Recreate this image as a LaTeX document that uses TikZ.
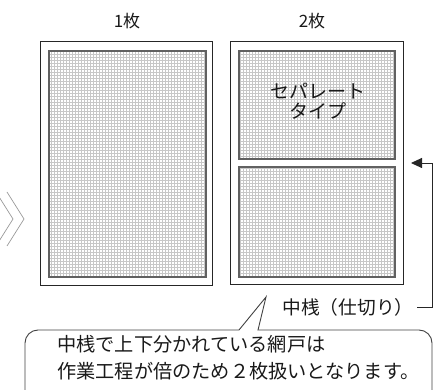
\documentclass[tikz,border=0pt]{standalone}
\usepackage{fontspec}
\newfontfamily\jp{Noto Sans CJK JP}
\usepackage{tikz}
\usetikzlibrary{arrows.meta, patterns, calc}

\tikzset{
  frame/.style={draw=black!85, line width=0.9pt, fill=white},
  mesh/.style={draw=black!62, line width=1.5pt, pattern=grid, pattern color=black!22},
  caption/.style={font=\jp\fontsize{17}{19}\selectfont, text=black!90},
  notetext/.style={font=\jp\fontsize{19.2}{21}\selectfont, text=black!90, inner sep=0pt, anchor=west},
  chevron/.style={draw=black!40, line width=0.7pt},
}

\begin{document}
\begin{tikzpicture}[x=1pt, y=-1pt]

	\useasboundingbox (0,0) rectangle (442,390);

	\coordinate (A1) at (40,41);
	\coordinate (A2) at (212,285);
	\coordinate (B1) at (230,41);
	\coordinate (B2) at (403,284);

	% frames
	\filldraw[frame] (A1) rectangle (A2);
	\filldraw[frame] (B1) rectangle (B2);

	% mesh panels
	\draw[mesh] ($(A1)+(9,10)$) rectangle ($(A2)+(-6,-8)$);
	\draw[mesh] ($(B1)+(9,10)$) rectangle (395,159);
	\draw[mesh] (239,167) rectangle ($(B2)+(-8,-7)$);

	\node[caption] (cap1) at (127,21) {1枚};
	\node[caption] (cap2) at (312,21) {2枚};

	\node[font=\jp\fontsize{19}{19.5}\selectfont, text=black!90, align=center] (seplbl) at (318,101)
		{セパレート\\タイプ};

	% chevrons
	\draw[chevron] (7,192) -- (24,219) -- (7,246);
	\draw[chevron] (-4,192) -- (13,219) -- (-4,246);

	% partition label and arrow
	\node[caption, font=\jp\fontsize{18.7}{20}\selectfont, anchor=east] (midlbl) at (417,307) {中桟（仕切り）};
	\coordinate (bend) at (432,307);
	\coordinate (tip) at (411,163);
	\draw[black!85, line width=0.9pt, -{Triangle[length=11pt, width=10pt]}] (midlbl.east) -- (bend) |- (tip);

	% speech bubble
	\coordinate (tail) at (266,297);
	\draw[black!75, line width=0.9pt] (239,330) -- (tail) -- (258,330)
		[rounded corners=13pt] -- (432,330) -- (432,400);
	\draw[black!75, line width=0.9pt, rounded corners=13pt] (239,330) -- (25,330) -- (25,400);

	\node[notetext] (noteA) at (57,344.5) {中桟で上下分かれている網戸は};
	\node[notetext] (noteB) at (57,371.5) {作業工程が倍のため２枚扱いとなります。};

\end{tikzpicture}
\end{document}
